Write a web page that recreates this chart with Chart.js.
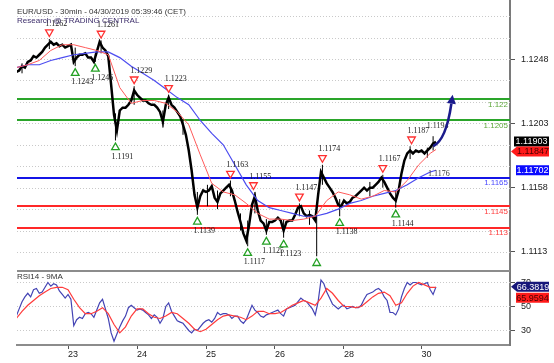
<!DOCTYPE html>
<html>
<head>
<meta charset="utf-8">
<script src="https://cdn.jsdelivr.net/npm/chart.js@4.4.1/dist/chart.umd.min.js"></script>
<style>
  html, body { margin: 0; padding: 0; background: #fff; }
  #wrap { position: relative; width: 554px; height: 363px; overflow: hidden; }
  #price-chart { position: absolute; left: 0; top: 0; }
  #rsi-chart { position: absolute; left: 0; top: 272px; }
</style>
</head>
<body>
<div id="wrap">
  <canvas id="price-chart" width="554" height="272"></canvas>
  <canvas id="rsi-chart" width="554" height="91"></canvas>
</div>
<script>
// EUR/USD 30min with RSI panel
// x values are chart hours counted from 23 Apr 00:00 (weekend removed)

var firstHour = -18;
var closePrices = [
  1.1239, 1.1240, 1.1243, 1.1242, 1.1246, 1.1247, 1.1250, 1.1249, 1.1251, 1.1253,
  1.1256, 1.1258, 1.1260, 1.1258, 1.1259, 1.1257, 1.1258, 1.1256, 1.1257, 1.1258,
  1.1246, 1.1249, 1.1251, 1.1251, 1.1252, 1.1249, 1.1249, 1.1246, 1.1253, 1.1260,
  1.1256, 1.1254, 1.1250, 1.1230, 1.1209, 1.1198, 1.1212, 1.1214, 1.1214, 1.1216,
  1.1219, 1.1226, 1.1223, 1.1221, 1.1219, 1.1219, 1.1217, 1.1216, 1.1216, 1.1214,
  1.1211, 1.1204, 1.1216, 1.1221, 1.1216, 1.1214, 1.1211, 1.1208, 1.1202, 1.1195,
  1.1184, 1.1170, 1.1153, 1.1144, 1.1152, 1.1156, 1.1155, 1.1156, 1.1159, 1.1151,
  1.1148, 1.1154, 1.1156, 1.1158, 1.1160, 1.1156, 1.1149, 1.1141, 1.1134, 1.1126,
  1.1121, 1.1132, 1.1146, 1.1152, 1.1142, 1.1135, 1.1133, 1.1128, 1.1134, 1.1134,
  1.1135, 1.1137, 1.1135, 1.1128, 1.1134, 1.1135, 1.1135, 1.1139, 1.1144, 1.1145,
  1.1140, 1.1138, 1.1139, 1.1138, 1.1135, 1.1153, 1.1169, 1.1165, 1.1161, 1.1158,
  1.1155, 1.1151, 1.1146, 1.1145, 1.1149, 1.1147, 1.1148, 1.1151, 1.1152, 1.1154,
  1.1156, 1.1158, 1.1156, 1.1158, 1.1158, 1.1160, 1.1162, 1.1165, 1.1162, 1.1158,
  1.1154, 1.1151, 1.1149, 1.1156, 1.1168, 1.1177, 1.1182, 1.1184, 1.1182, 1.1184,
  1.1183, 1.1184, 1.1182, 1.1184, 1.1186, 1.1189, 1.1190
];
var rsiValues = [
  42, 48, 54, 58, 61, 58, 64, 65, 61, 62,
  66, 70, 67, 69, 68, 63, 60, 57, 60, 56,
  34, 39, 41, 40, 44, 45, 44, 41, 47, 53,
  56, 48, 40, 28, 21, 27, 33, 38, 42, 49,
  51, 49, 47, 48, 47, 45, 43, 40, 43, 41,
  36, 40, 50, 53, 46, 42, 38, 37, 36, 33,
  30, 28, 31, 30, 33, 36, 38, 39, 37, 40,
  45, 43, 44, 44, 43, 40, 42, 42, 38, 36,
  39, 45, 51, 47, 45, 42, 41, 43, 44, 45,
  46, 47, 44, 42, 48, 49, 50, 51, 54, 57,
  55, 54, 51, 48, 43, 54, 72, 69, 62, 57,
  52, 50, 48, 50, 51, 48, 49, 50, 49, 49,
  51, 56, 60, 61, 62, 64, 65, 63, 58, 55,
  45, 45, 43, 48, 58, 65, 70, 68, 70, 70,
  69, 68, 69, 70, 64, 60, 66.38
];
// 9MA of the RSI, one value every 2 hours from firstHour
var rsiMaValues = [
  40, 46, 51, 55, 59, 62, 65, 66, 66, 64,
  56, 49, 44, 44, 46, 49, 44, 35, 28, 33,
  42, 48, 48, 44, 41, 40, 42, 45, 44, 40,
  36, 31, 29, 31, 35, 39, 42, 43, 42, 41,
  39, 42, 46, 46, 44, 44, 45, 48, 51, 53,
  55, 53, 51, 57, 65, 61, 55, 50, 50, 49,
  50, 54, 58, 61, 62, 59, 51, 53, 61, 67,
  70, 68, 66, 65.96
];

var maHours = [-18, -14, -10, -6, -2, 2, 6, 10, 14, 18, 22, 26, 30, 34, 38, 42, 46, 50, 54,
  58, 62, 66, 70, 74, 78, 82, 86, 90, 94, 98, 102, 106, 110, 114, 118, 122, 126, 128];
var maFast = [1.1242, 1.1244, 1.1247, 1.1254, 1.1258, 1.1258, 1.1256, 1.1254, 1.1251, 1.1228,
  1.1217, 1.1219, 1.1219, 1.1217, 1.1211, 1.1202, 1.1181, 1.1161, 1.1155, 1.1153,
  1.1147, 1.1140, 1.1136, 1.1136, 1.1135, 1.1136, 1.1138, 1.1149, 1.1155, 1.1153,
  1.1150, 1.1152, 1.1156, 1.1155, 1.1163, 1.1174, 1.1182, 1.11847];
var maSlow = [1.1242, 1.1244, 1.1244, 1.1247, 1.1249, 1.1251, 1.1252, 1.1253, 1.1253, 1.1249,
  1.1243, 1.1238, 1.1233, 1.1227, 1.1221, 1.1216, 1.1205, 1.1196, 1.1188, 1.1174,
  1.1160, 1.1149, 1.1144, 1.1142, 1.1140, 1.1138, 1.1138, 1.1140, 1.1143, 1.1147,
  1.1149, 1.1152, 1.1154, 1.1156, 1.1160, 1.1165, 1.1169, 1.11702];

// candle wicks at the swing bars
var wickHours = [-16, -6.5, 2.5, 9.5, 11.5, 16.5, 23, 33, 35, 40, 45, 48.5, 52, 56.5, 60, 62.5,
  65, 69, 75, 80.5, 84, 86.5, 88.5, 94.5, 105, 109.5, 114, 119, 125, 127];
var wickLows = [1.1238, 1.1255, 1.1243, 1.1246, 1.1252, 1.1191, 1.1216, 1.1200, 1.1213, 1.1195,
  1.1139, 1.1145, 1.1143, 1.1152, 1.1128, 1.1117, 1.1140, 1.1125, 1.1123, 1.1138,
  1.1132, 1.1110, 1.1160, 1.1138, 1.1152, 1.1158, 1.1144, 1.1178, 1.1179, 1.1184];
var wickHighs = [1.1245, 1.1262, 1.1256, 1.1252, 1.1261, 1.1210, 1.1229, 1.1212, 1.1223, 1.1206,
  1.1155, 1.1160, 1.1156, 1.1163, 1.1140, 1.1135, 1.1155, 1.1136, 1.1136, 1.1147,
  1.1142, 1.1138, 1.1174, 1.1150, 1.1162, 1.1167, 1.1156, 1.1187, 1.1186, 1.1194];

var highHours = [-6.5, 11.5, 23, 35, 56.5, 64.5, 80.5, 88.5, 109.5, 119.5];
var highValues = [1.1262, 1.1261, 1.1229, 1.1223, 1.1163, 1.1155, 1.1147, 1.1174, 1.1167, 1.1187];
var lowHours = [2.5, 9.5, 16.5, 45, 62.5, 69, 75, 86.5, 94.5, 114];
var lowValues = [1.1243, 1.1246, 1.1191, 1.1139, 1.1117, 1.1125, 1.1123, 1.1110, 1.1138, 1.1144];
var lowLabels = ['1.1243', '1.1246', '1.1191', '1.1139', '1.1117', '1.1125', '1.1123', '', '1.1138', '1.1144'];
var noteHours = [124.8, 125.2];
var notePrices = [1.1201, 1.11675];
var noteTexts = ['1.1194', '1.1176'];

var levelValues = [1.122, 1.1205, 1.1165, 1.1145, 1.113];
var levelLabels = ['1.122', '1.1205', '1.1165', '1.1145', '1.113'];
var levelKinds = ['resistance', 'resistance', 'pivot', 'support', 'support'];

var priceTicks = [1.1113, 1.1158, 1.1203, 1.1248];
var rsiTicks = [30, 50, 70];
var dayHours = [0, 24, 48, 72, 96, 123];
var dayLabels = ['23', '24', '25', '26', '28', '30'];

var lastClose = 1.11903, lastFast = 1.11847, lastSlow = 1.11702;
var lastRsi = 66.3819, lastRsiMa = 65.9594;
var arrowFrom = [127, 1.1187], arrowVia = [131.5, 1.1191], arrowTo = [133.8, 1.1223];

var xMin = -17.75, xMax = 153.75;

var kindColors = { resistance: '#2aa52a', pivot: '#1414e6', support: '#ff2828' };
var kindText = { resistance: '#5ea83c', pivot: '#4a4aff', support: '#ff3c3c' };

Chart.defaults.font.family = '"Liberation Sans", Arial, sans-serif';

function points(hours, values) {
  return values.map(function (v, i) { return { x: hours[i], y: v }; });
}
function stepPoints(start, step, values) {
  return values.map(function (v, i) { return { x: start + i * step, y: v }; });
}

var wickData = [];
wickHours.forEach(function (h, i) {
  wickData.push({ x: h, y: wickLows[i] }, { x: h, y: wickHighs[i] }, { x: h, y: null });
});

// keep the plot flush with the canvas edges
function noPadding(s) {
  s.paddingTop = 0; s.paddingBottom = 0; s.paddingLeft = 0; s.paddingRight = 0;
}

function drawTriangle(ctx, cx, cy, up, color) {
  ctx.beginPath();
  if (up) {
    ctx.moveTo(cx, cy - 3.5); ctx.lineTo(cx + 3.8, cy + 3.2); ctx.lineTo(cx - 3.8, cy + 3.2);
  } else {
    ctx.moveTo(cx - 3.8, cy - 3.2); ctx.lineTo(cx + 3.8, cy - 3.2); ctx.lineTo(cx, cy + 3.5);
  }
  ctx.closePath();
  ctx.fillStyle = '#fff';
  ctx.fill();
  ctx.lineWidth = 1.3;
  ctx.strokeStyle = color;
  ctx.stroke();
}

function drawTag(ctx, cy, text, bg, fg, notch, left) {
  var right = 549, h = 10, body = notch ? 517 : left;
  ctx.beginPath();
  if (notch) {
    ctx.moveTo(511, cy);
    ctx.lineTo(body, cy - h / 2);
  } else {
    ctx.moveTo(body, cy - h / 2);
  }
  ctx.lineTo(right, cy - h / 2);
  ctx.lineTo(right, cy + h / 2);
  ctx.lineTo(body, cy + h / 2);
  ctx.closePath();
  ctx.fillStyle = bg;
  ctx.fill();
  ctx.fillStyle = fg;
  ctx.font = '9px "Liberation Sans", Arial, sans-serif';
  ctx.textAlign = 'center';
  ctx.textBaseline = 'middle';
  ctx.fillText(text, (body + right) / 2, cy + 0.5);
}

var priceDecor = {
  id: 'priceDecor',
  beforeDatasetsDraw: function (chart) {
    var ctx = chart.ctx, a = chart.chartArea, y = chart.scales.y;
    ctx.save();
    // dotted grid
    ctx.strokeStyle = '#c9c9c9';
    ctx.lineWidth = 1;
    ctx.setLineDash([1, 2]);
    for (var p = 1.1098; p < 1.1290; p += 0.0015) {
      var gy = Math.round(y.getPixelForValue(p)) + 0.5;
      ctx.beginPath(); ctx.moveTo(a.left, gy); ctx.lineTo(a.right, gy); ctx.stroke();
    }
    ctx.setLineDash([]);
    // support / resistance levels
    levelValues.forEach(function (v, i) {
      var ly = Math.round(y.getPixelForValue(v));
      ctx.strokeStyle = kindColors[levelKinds[i]];
      ctx.lineWidth = 2;
      ctx.beginPath(); ctx.moveTo(a.left, ly); ctx.lineTo(a.right, ly); ctx.stroke();
    });
    ctx.restore();
  },
  afterDatasetsDraw: function (chart) {
    var ctx = chart.ctx, a = chart.chartArea, x = chart.scales.x, y = chart.scales.y;
    ctx.save();
    ctx.font = '8px "Liberation Serif", "Times New Roman", serif';
    ctx.textBaseline = 'middle';
    ctx.textAlign = 'left';
    highHours.forEach(function (h, i) {
      var px = x.getPixelForValue(h), py = y.getPixelForValue(highValues[i]);
      drawTriangle(ctx, px, py - 6, false, '#ff3030');
      ctx.fillStyle = '#1a1a1a';
      ctx.fillText(highValues[i].toFixed(4), px - 4, py - 15.5);
    });
    lowHours.forEach(function (h, i) {
      var px = x.getPixelForValue(h), py = y.getPixelForValue(lowValues[i]);
      drawTriangle(ctx, px, py + 6, true, '#23a023');
      if (lowLabels[i]) {
        ctx.fillStyle = '#1a1a1a';
        ctx.fillText(lowLabels[i], px - 4, py + 16);
      }
    });
    noteHours.forEach(function (h, i) {
      ctx.fillStyle = '#333';
      ctx.fillText(noteTexts[i], x.getPixelForValue(h), y.getPixelForValue(notePrices[i]));
    });
    // level labels
    ctx.font = '8px "Liberation Sans", Arial, sans-serif';
    ctx.textAlign = 'right';
    levelValues.forEach(function (v, i) {
      ctx.fillStyle = kindText[levelKinds[i]];
      ctx.fillText(levelLabels[i], a.right - 2, y.getPixelForValue(v) + 5.5);
    });
    // forecast arrow
    var x0 = x.getPixelForValue(arrowFrom[0]), y0 = y.getPixelForValue(arrowFrom[1]);
    var x1 = x.getPixelForValue(arrowVia[0]), y1 = y.getPixelForValue(arrowVia[1]);
    var x2 = x.getPixelForValue(arrowTo[0]), y2 = y.getPixelForValue(arrowTo[1]);
    var ang = Math.atan2(y2 - y1, x2 - x1);
    var bx = x2 - Math.cos(ang) * 9, by = y2 - Math.sin(ang) * 9;
    ctx.strokeStyle = '#1b1b8c';
    ctx.lineWidth = 2.6;
    ctx.beginPath(); ctx.moveTo(x0, y0); ctx.quadraticCurveTo(x1, y1, bx, by); ctx.stroke();
    ctx.fillStyle = '#1b1b8c';
    ctx.beginPath();
    ctx.moveTo(x2, y2);
    ctx.lineTo(bx + Math.sin(ang) * 4.5, by - Math.cos(ang) * 4.5);
    ctx.lineTo(bx - Math.sin(ang) * 4.5, by + Math.cos(ang) * 4.5);
    ctx.closePath(); ctx.fill();
    ctx.restore();
  },
  afterDraw: function (chart) {
    var ctx = chart.ctx, a = chart.chartArea, y = chart.scales.y;
    ctx.save();
    ctx.textAlign = 'left';
    ctx.textBaseline = 'middle';
    ctx.font = '8px "Liberation Sans", Arial, sans-serif';
    ctx.fillStyle = '#333';
    ctx.fillText('EUR/USD - 30min - 04/30/2019 05:39:46 (CET)', 17, 12);
    ctx.fillStyle = '#3d2e6b';
    ctx.fillText('Research @ TRADING CENTRAL', 17, 21);
    // panel separator
    ctx.fillStyle = '#8c8c8c';
    ctx.fillRect(a.left, 270, a.right - a.left, 2);
    // last value tags
    var c1 = y.getPixelForValue(lastClose);
    var c2 = Math.max(y.getPixelForValue(lastFast), c1 + 10);
    var c3 = Math.max(y.getPixelForValue(lastSlow), c2 + 10);
    drawTag(ctx, c1, lastClose.toFixed(5), '#000', '#fff', false, 514);
    drawTag(ctx, c2, lastFast.toFixed(5), '#ff1a1a', '#4a0000', true);
    drawTag(ctx, c3, lastSlow.toFixed(5), '#0a0aff', '#fff', false, 516);
    ctx.restore();
  }
};

var rsiDecor = {
  id: 'rsiDecor',
  beforeDatasetsDraw: function (chart) {
    var ctx = chart.ctx, a = chart.chartArea, y = chart.scales.y;
    ctx.save();
    ctx.strokeStyle = '#c9c9c9';
    ctx.lineWidth = 1;
    ctx.setLineDash([1, 2]);
    rsiTicks.forEach(function (v) {
      var gy = Math.round(y.getPixelForValue(v)) + 0.5;
      ctx.beginPath(); ctx.moveTo(a.left, gy); ctx.lineTo(a.right, gy); ctx.stroke();
    });
    ctx.restore();
  },
  afterDraw: function (chart) {
    var ctx = chart.ctx, y = chart.scales.y;
    ctx.save();
    ctx.textAlign = 'left';
    ctx.textBaseline = 'middle';
    ctx.font = '8px "Liberation Sans", Arial, sans-serif';
    ctx.fillStyle = '#333';
    ctx.fillText('RSI14 - 9MA', 17, 5);
    var c1 = y.getPixelForValue(lastRsi);
    var c2 = Math.max(y.getPixelForValue(lastRsiMa), c1 + 11);
    drawTag(ctx, c1, lastRsi.toFixed(4), '#17177a', '#fff', true);
    drawTag(ctx, c2, lastRsiMa.toFixed(4), '#ff1a1a', '#4a0000', false, 516);
    ctx.restore();
  }
};

var priceChart = new Chart(document.getElementById('price-chart'), {
  type: 'line',
  data: {
    datasets: [
      { data: points(maHours, maFast), borderColor: '#ff5a5a', borderWidth: 1, pointRadius: 0 },
      { data: points(maHours, maSlow), borderColor: '#4c4cf0', borderWidth: 1.2, pointRadius: 0 },
      { data: wickData, borderColor: '#000', borderWidth: 1, pointRadius: 0, spanGaps: false },
      { data: stepPoints(firstHour, 1, closePrices), borderColor: '#000', borderWidth: 2.5, pointRadius: 0 }
    ]
  },
  options: {
    responsive: false,
    animation: false,
    devicePixelRatio: 1,
    layout: { padding: { left: 17, right: 0, top: 0, bottom: 0 } },
    plugins: { legend: { display: false }, tooltip: { enabled: false } },
    scales: {
      x: { type: 'linear', min: xMin, max: xMax, display: false },
      y: {
        position: 'right',
        min: 1.1099,
        max: 1.12893,
        afterBuildTicks: function (s) { s.ticks = priceTicks.map(function (v) { return { value: v }; }); },
        afterFit: function (s) { s.width = 44; noPadding(s); },
        grid: { drawOnChartArea: false, tickLength: 5, tickColor: '#555' },
        border: { color: '#7a7a7a', width: 2 },
        ticks: {
          padding: 6,
          color: '#222',
          font: { size: 9 },
          callback: function (v) { return v.toFixed(4); }
        }
      }
    }
  },
  plugins: [priceDecor]
});

var rsiChart = new Chart(document.getElementById('rsi-chart'), {
  type: 'line',
  data: {
    datasets: [
      { data: stepPoints(firstHour, 2, rsiMaValues), borderColor: '#ff3b3b', borderWidth: 1.2, pointRadius: 0 },
      { data: stepPoints(firstHour, 1, rsiValues), borderColor: '#4343b4', borderWidth: 1.2, pointRadius: 0 }
    ]
  },
  options: {
    responsive: false,
    animation: false,
    devicePixelRatio: 1,
    layout: { padding: { left: 17, right: 0, top: 0, bottom: 0 } },
    plugins: { legend: { display: false }, tooltip: { enabled: false } },
    scales: {
      x: {
        type: 'linear', min: xMin, max: xMax,
        afterBuildTicks: function (s) { s.ticks = dayHours.map(function (v) { return { value: v }; }); },
        afterFit: function (s) { s.height = 18; noPadding(s); },
        grid: { drawOnChartArea: false, tickLength: 4, tickColor: '#555' },
        border: { color: '#8c8c8c', width: 2 },
        ticks: {
          align: 'start', padding: 0, maxRotation: 0, autoSkip: false,
          color: '#222', font: { size: 9 },
          callback: function (v) { return dayLabels[dayHours.indexOf(v)]; }
        }
      },
      y: {
        position: 'right',
        min: 17.9,
        max: 78.75,
        afterBuildTicks: function (s) { s.ticks = rsiTicks.map(function (v) { return { value: v }; }); },
        afterFit: function (s) { s.width = 44; noPadding(s); },
        grid: { drawOnChartArea: false, tickLength: 5, tickColor: '#555' },
        border: { color: '#7a7a7a', width: 2 },
        ticks: { padding: 6, color: '#222', font: { size: 9 } }
      }
    }
  },
  plugins: [rsiDecor]
});
</script>
</body>
</html>
